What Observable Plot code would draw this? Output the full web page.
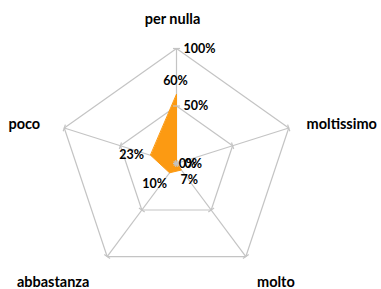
<!DOCTYPE html>
<html><head><meta charset="utf-8">
<script src="https://cdn.jsdelivr.net/npm/d3@7"></script>
<script src="https://cdn.jsdelivr.net/npm/@observablehq/plot@0.6"></script>
<style>html,body{margin:0;padding:0;background:#fff} svg{display:block}</style>
</head><body><div id="chart"></div>
<script>
const categories = ["per nulla", "moltissimo", "molto", "abbastanza", "poco"];
const values = [60, 0, 7, 10, 23];
const valueLabels = ["60%", "0%", "7%", "10%", "23%"];
const gridLevels = [50, 100];
const axisTicks = [0, 50, 100];
const axisTickLabels = ["0%", "50%", "100%"];

const W = 381, H = 289, cx = 176, cy = 163, rx = 118, ry = 115;
const n = categories.length;
const ang = i => i * 2 * Math.PI / n;
const pt = (i, v) => ({x: Math.sin(ang(i)) * v / 100, y: Math.cos(ang(i)) * v / 100});

const gridColor = "#c4c4c4";
const orange = "#fc9a12";
const font = "Lato, 'Open Sans', sans-serif";

const gridData = gridLevels.flatMap(l => categories.map((c, i) => ({...pt(i, l), level: l})));
const spokeData = categories.map((c, i) => ({...pt(i, 100)}));
const tickHalf = 0.03;
const tickData = axisTicks.flatMap(l => categories.map((c, i) => {
  const p = pt(i, l), a = ang(i);
  return {x1: p.x - Math.cos(a) * tickHalf, y1: p.y + Math.sin(a) * tickHalf,
          x2: p.x + Math.cos(a) * tickHalf, y2: p.y - Math.sin(a) * tickHalf};
}));
const areaData = categories.map((c, i) => ({...pt(i, values[i]), c}));
const valueLabelData = categories.map((c, i) => ({...pt(i, values[i]), label: valueLabels[i], i}));
const axisLabelData = axisTicks.map((t, k) => ({...pt(0, t), label: axisTickLabels[k]}));
const catData = categories.map((c, i) => ({...pt(i, 100), label: c, i}));

// layout offsets (pixels) for text
const catOffsets = [[-4, -29], [53, -4], [30, 26], [-54, 26], [-40, -4]];
const valOffsets = [[-1, -14], [11, 0], [8, 10], [-15, 11], [-19, 0]];

const marks = [
  Plot.line(gridData, {x: "x", y: "y", z: "level", curve: "linear-closed", stroke: gridColor, strokeWidth: 1.2}),
  Plot.link(spokeData, {x1: () => 0, y1: () => 0, x2: "x", y2: "y", stroke: gridColor, strokeWidth: 1.2}),
  Plot.line(areaData, {x: "x", y: "y", curve: "linear-closed", fill: orange, stroke: orange, strokeWidth: 1}),
  Plot.link(tickData, {x1: "x1", y1: "y1", x2: "x2", y2: "y2", stroke: gridColor, strokeWidth: 1.2}),
];
catData.forEach((d, i) => {
  marks.push(Plot.text([d], {x: "x", y: "y", text: "label", dx: catOffsets[i][0], dy: catOffsets[i][1],
    fontFamily: font, fontWeight: "bold", fontSize: 14.5, fill: "#000"}));
});
axisLabelData.forEach((d, k) => {
  marks.push(Plot.text([d], {x: "x", y: "y", text: "label", dx: k === 0 ? 8 : 7, dy: 0, textAnchor: "start",
    fontFamily: font, fontWeight: "bold", fontSize: 12.5, fill: "#000"}));
});
valueLabelData.forEach((d, i) => {
  marks.push(Plot.text([d], {x: "x", y: "y", text: "label", dx: valOffsets[i][0], dy: valOffsets[i][1],
    fontFamily: font, fontWeight: "bold", fontSize: 12.5, fill: "#000"}));
});

const chart = Plot.plot({
  width: W, height: H, margin: 0,
  x: {domain: [-cx / rx, (W - cx) / rx], range: [0, W], axis: null},
  y: {domain: [-(H - cy) / ry, cy / ry], range: [H, 0], axis: null},
  style: {background: "#fff"},
  marks
});
document.getElementById("chart").appendChild(chart);
</script>
</body></html>
